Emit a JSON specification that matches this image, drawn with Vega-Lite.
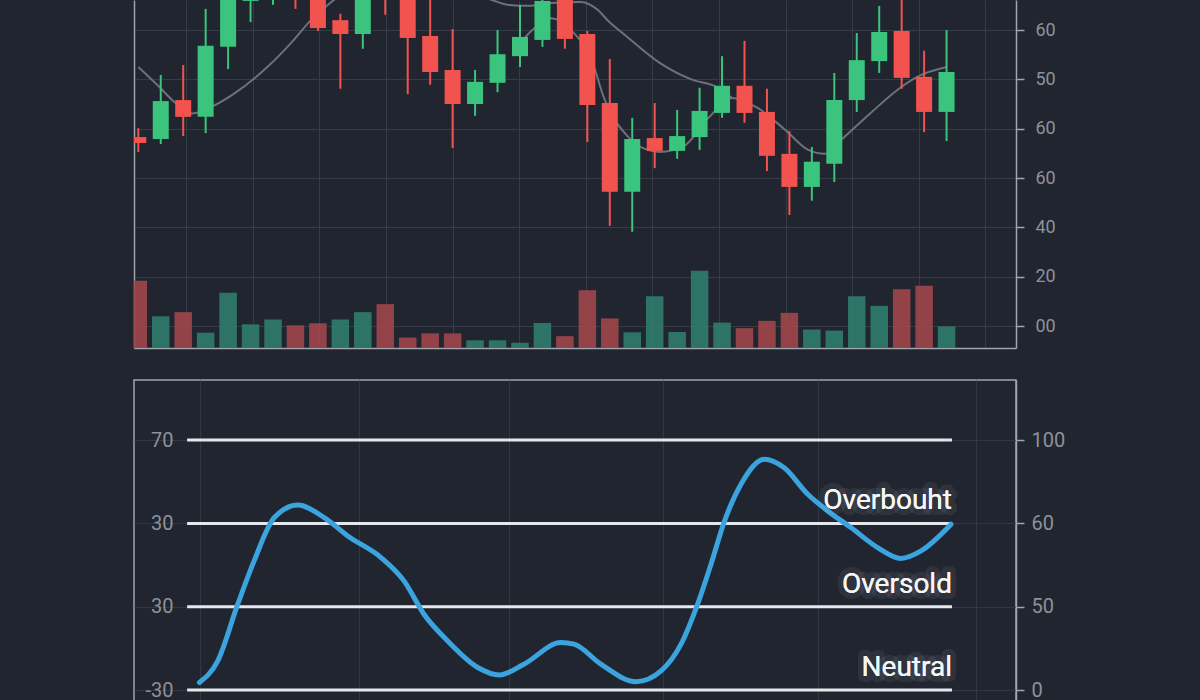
{
  "$schema": "https://vega.github.io/schema/vega-lite/v6.json",
  "background": "#20252f",
  "padding": {"left": 133, "top": 0, "right": 160, "bottom": 0},
  "spacing": 31,
  "config": {
    "view": {"stroke": null},
    "axis": {"labelFont": "Roboto", "titleFont": "Roboto", "gridColor": "#363c47", "gridWidth": 1, "domainColor": "#a0a5ad", "domainWidth": 1.5, "tickColor": "#a0a5ad", "tickWidth": 1.5, "labelColor": "#8d929a"},
    "text": {"font": "Roboto"}
  },
  "datasets": {
    "candles": [
      {"i": 0, "open": 3.83, "high": 4.01, "low": 3.53, "close": 3.71, "vol": 19.3, "side": "down"},
      {"i": 1, "open": 3.79, "high": 5.09, "low": 3.69, "close": 4.56, "vol": 9.1, "side": "up"},
      {"i": 2, "open": 4.58, "high": 5.29, "low": 3.85, "close": 4.24, "vol": 10.3, "side": "down"},
      {"i": 3, "open": 4.24, "high": 6.43, "low": 3.91, "close": 5.68, "vol": 4.4, "side": "up"},
      {"i": 4, "open": 5.66, "high": 7.12, "low": 5.21, "close": 6.85, "vol": 15.9, "side": "up"},
      {"i": 5, "open": 6.59, "high": 7.42, "low": 6.16, "close": 7.22, "vol": 6.8, "side": "up"},
      {"i": 6, "open": 6.69, "high": 7.52, "low": 6.51, "close": 7.32, "vol": 8.2, "side": "up"},
      {"i": 7, "open": 7.22, "high": 7.42, "low": 6.43, "close": 6.67, "vol": 6.5, "side": "down"},
      {"i": 8, "open": 6.91, "high": 7.06, "low": 5.98, "close": 6.04, "vol": 7.1, "side": "down"},
      {"i": 9, "open": 6.20, "high": 6.33, "low": 4.81, "close": 5.92, "vol": 8.2, "side": "up"},
      {"i": 10, "open": 5.92, "high": 6.91, "low": 5.62, "close": 6.77, "vol": 10.3, "side": "up"},
      {"i": 11, "open": 7.22, "high": 7.42, "low": 6.31, "close": 6.73, "vol": 12.6, "side": "down"},
      {"i": 12, "open": 6.85, "high": 7.01, "low": 4.70, "close": 5.84, "vol": 3.0, "side": "down"},
      {"i": 13, "open": 5.88, "high": 6.71, "low": 4.89, "close": 5.15, "vol": 4.2, "side": "down"},
      {"i": 14, "open": 5.19, "high": 6.02, "low": 3.61, "close": 4.50, "vol": 4.2, "side": "down"},
      {"i": 15, "open": 4.50, "high": 5.19, "low": 4.26, "close": 4.95, "vol": 2.2, "side": "up"},
      {"i": 16, "open": 4.93, "high": 6.00, "low": 4.74, "close": 5.51, "vol": 2.2, "side": "up"},
      {"i": 17, "open": 5.47, "high": 6.51, "low": 5.25, "close": 5.86, "vol": 1.5, "side": "up"},
      {"i": 18, "open": 5.80, "high": 6.71, "low": 5.66, "close": 6.59, "vol": 7.2, "side": "up"},
      {"i": 19, "open": 6.65, "high": 6.77, "low": 5.62, "close": 5.82, "vol": 3.4, "side": "down"},
      {"i": 20, "open": 5.92, "high": 5.98, "low": 3.73, "close": 4.48, "vol": 16.6, "side": "down"},
      {"i": 21, "open": 4.52, "high": 5.41, "low": 2.03, "close": 2.72, "vol": 8.5, "side": "down"},
      {"i": 22, "open": 2.72, "high": 4.22, "low": 1.91, "close": 3.79, "vol": 4.5, "side": "up"},
      {"i": 23, "open": 3.81, "high": 4.52, "low": 3.20, "close": 3.55, "vol": 14.9, "side": "up"},
      {"i": 24, "open": 3.55, "high": 4.38, "low": 3.39, "close": 3.85, "vol": 4.6, "side": "up"},
      {"i": 25, "open": 3.83, "high": 4.83, "low": 3.57, "close": 4.36, "vol": 22.2, "side": "up"},
      {"i": 26, "open": 4.32, "high": 5.47, "low": 4.22, "close": 4.87, "vol": 7.3, "side": "up"},
      {"i": 27, "open": 4.87, "high": 5.78, "low": 4.12, "close": 4.32, "vol": 5.7, "side": "down"},
      {"i": 28, "open": 4.34, "high": 4.81, "low": 3.14, "close": 3.45, "vol": 7.8, "side": "down"},
      {"i": 29, "open": 3.49, "high": 3.95, "low": 2.25, "close": 2.82, "vol": 10.1, "side": "down"},
      {"i": 30, "open": 2.82, "high": 3.63, "low": 2.54, "close": 3.33, "vol": 5.3, "side": "up"},
      {"i": 31, "open": 3.29, "high": 5.13, "low": 2.92, "close": 4.58, "vol": 5.0, "side": "up"},
      {"i": 32, "open": 4.58, "high": 5.94, "low": 4.34, "close": 5.39, "vol": 14.9, "side": "up"},
      {"i": 33, "open": 5.37, "high": 6.49, "low": 5.13, "close": 5.96, "vol": 12.1, "side": "up"},
      {"i": 34, "open": 5.98, "high": 6.67, "low": 4.81, "close": 5.03, "vol": 16.9, "side": "down"},
      {"i": 35, "open": 5.05, "high": 5.58, "low": 3.93, "close": 4.34, "vol": 17.9, "side": "down"},
      {"i": 36, "open": 4.34, "high": 6.00, "low": 3.75, "close": 5.15, "vol": 6.2, "side": "up"}
    ],
    "ma": [
      {"i": 0, "p": 5.25, "line": "slow"},
      {"i": 0.93, "p": 4.85, "line": "slow"},
      {"i": 1.66, "p": 4.52, "line": "slow"},
      {"i": 2.4, "p": 4.31, "line": "slow"},
      {"i": 3.42, "p": 4.48, "line": "slow"},
      {"i": 4.3, "p": 4.72, "line": "slow"},
      {"i": 5.77, "p": 5.26, "line": "slow"},
      {"i": 6.81, "p": 5.74, "line": "slow"},
      {"i": 7.69, "p": 6.2, "line": "slow"},
      {"i": 8.71, "p": 6.61, "line": "slow"},
      {"i": 9.59, "p": 6.91, "line": "slow"},
      {"i": 11.79, "p": 7.12, "line": "slow"},
      {"i": 13.99, "p": 6.85, "line": "slow"},
      {"i": 15.75, "p": 6.61, "line": "slow"},
      {"i": 16.5, "p": 6.51, "line": "slow"},
      {"i": 17.38, "p": 6.49, "line": "slow"},
      {"i": 18.39, "p": 6.55, "line": "slow"},
      {"i": 19.71, "p": 6.57, "line": "slow"},
      {"i": 20.46, "p": 6.41, "line": "slow"},
      {"i": 20.9, "p": 6.2, "line": "slow"},
      {"i": 21.78, "p": 5.86, "line": "slow"},
      {"i": 23.24, "p": 5.33, "line": "slow"},
      {"i": 24.69, "p": 4.99, "line": "slow"},
      {"i": 25.75, "p": 4.85, "line": "slow"},
      {"i": 26.45, "p": 4.62, "line": "slow"},
      {"i": 16.94, "p": 5.7, "line": "fast"},
      {"i": 17.6, "p": 6.02, "line": "fast"},
      {"i": 18.39, "p": 6.24, "line": "fast"},
      {"i": 19.27, "p": 6.0, "line": "fast"},
      {"i": 20.24, "p": 5.33, "line": "fast"},
      {"i": 20.73, "p": 4.64, "line": "fast"},
      {"i": 21.83, "p": 3.83, "line": "fast"},
      {"i": 22.36, "p": 3.63, "line": "fast"},
      {"i": 23.24, "p": 3.53, "line": "fast"},
      {"i": 24.25, "p": 3.63, "line": "fast"},
      {"i": 25.44, "p": 4.24, "line": "fast"},
      {"i": 26.45, "p": 4.62, "line": "fast"},
      {"i": 27.51, "p": 4.44, "line": "fast"},
      {"i": 28.83, "p": 3.97, "line": "fast"},
      {"i": 29.84, "p": 3.57, "line": "fast"},
      {"i": 30.59, "p": 3.49, "line": "fast"},
      {"i": 31.3, "p": 3.77, "line": "fast"},
      {"i": 32.62, "p": 4.32, "line": "fast"},
      {"i": 33.94, "p": 4.83, "line": "fast"},
      {"i": 34.69, "p": 5.05, "line": "fast"},
      {"i": 36.01, "p": 5.25, "line": "fast"}
    ],
    "osc": [
      {"i": 2.91, "v": 0.09}, {"i": 3.72, "v": 0.35}, {"i": 4.6, "v": 1.03}, {"i": 5.32, "v": 1.55},
      {"i": 6.21, "v": 2.07}, {"i": 7.24, "v": 2.22}, {"i": 8.41, "v": 2.07}, {"i": 9.44, "v": 1.85},
      {"i": 10.91, "v": 1.59}, {"i": 11.92, "v": 1.31}, {"i": 12.8, "v": 0.91}, {"i": 13.84, "v": 0.59},
      {"i": 15.17, "v": 0.27}, {"i": 16.12, "v": 0.18}, {"i": 17.2, "v": 0.31}, {"i": 18.83, "v": 0.57},
      {"i": 19.41, "v": 0.55}, {"i": 20.59, "v": 0.31}, {"i": 22.14, "v": 0.1}, {"i": 23.24, "v": 0.23},
      {"i": 24.12, "v": 0.55}, {"i": 24.85, "v": 1.03}, {"i": 25.44, "v": 1.51}, {"i": 26.01, "v": 2.01},
      {"i": 26.76, "v": 2.47}, {"i": 27.79, "v": 2.77}, {"i": 28.65, "v": 2.67}, {"i": 29.7, "v": 2.35},
      {"i": 30.58, "v": 2.15}, {"i": 31.6, "v": 1.95}, {"i": 32.78, "v": 1.71}, {"i": 33.8, "v": 1.58},
      {"i": 34.69, "v": 1.67}, {"i": 36.01, "v": 1.99}
    ],
    "levels": [
      {"level": 3, "from": 2.37, "to": 36.05, "zone": null},
      {"level": 2, "from": 2.37, "to": 36.05, "zone": "Overbouht"},
      {"level": 1, "from": 2.37, "to": 36.05, "zone": "Oversold"},
      {"level": 0, "from": 2.37, "to": 36.05, "zone": "Neutral"}
    ]
  },
  "vconcat": [
    {
      "width": 882,
      "height": 348,
      "layer": [
        {
          "data": {"name": "candles"},
          "mark": {"type": "bar", "size": 17.5, "clip": true, "opacity": 0.9},
          "encoding": {
            "x": {"field": "i", "type": "quantitative", "scale": {"domain": [0.031, 38.87], "nice": false, "zero": false},
                  "axis": {"values": [2.13, 5.1, 8.07, 11.03, 14.0, 16.96, 19.93, 22.9, 25.86, 28.83, 31.8, 34.76, 37.73], "labels": false, "ticks": false, "domain": true, "grid": true, "title": null}},
            "y": {"field": "vol", "type": "quantitative", "scale": {"domain": [0, 100], "nice": false},
                  "axis": {"orient": "left", "labels": false, "ticks": false, "grid": false, "domain": true, "title": null}},
            "color": {"field": "side", "type": "nominal", "scale": {"domain": ["up", "down"], "range": ["#2f7d6e", "#a0474b"]}, "legend": null}
          }
        },
        {
          "layer": [
            {
              "data": {"name": "ma"},
              "mark": {"type": "line", "clip": true, "interpolate": "monotone", "strokeWidth": 2, "color": "#6c717a"},
              "encoding": {
                "x": {"field": "i", "type": "quantitative", "scale": {"domain": [0.031, 38.87], "nice": false, "zero": false}},
                "y": {"field": "p", "type": "quantitative", "scale": {"domain": [-0.446, 6.609], "nice": false, "zero": false},
                      "axis": {"orient": "right", "values": [0, 1, 2, 3, 4, 5, 6], "labelExpr": "['00','20','40','60','60','50','60'][datum.value]", "tickSize": 8, "labelPadding": 11, "labelFontSize": 18, "grid": true, "domain": true, "title": null}},
                "detail": {"field": "line", "type": "nominal"}
              }
            },
            {
              "data": {"name": "candles"},
              "mark": {"type": "rule", "clip": true, "strokeWidth": 2},
              "encoding": {
                "x": {"field": "i", "type": "quantitative", "scale": {"domain": [0.031, 38.87], "nice": false, "zero": false}},
                "y": {"field": "low", "type": "quantitative", "scale": {"domain": [-0.446, 6.609], "nice": false, "zero": false}},
                "y2": {"field": "high"},
                "color": {"condition": {"test": "datum.close >= datum.open", "value": "#3ac47d"}, "value": "#f3534f"}
              }
            },
            {
              "data": {"name": "candles"},
              "mark": {"type": "bar", "clip": true, "size": 16},
              "encoding": {
                "x": {"field": "i", "type": "quantitative", "scale": {"domain": [0.031, 38.87], "nice": false, "zero": false}},
                "y": {"field": "open", "type": "quantitative", "scale": {"domain": [-0.446, 6.609], "nice": false, "zero": false}},
                "y2": {"field": "close"},
                "color": {"condition": {"test": "datum.close >= datum.open", "value": "#3ac47d"}, "value": "#f3534f"}
              }
            }
          ]
        }
      ],
      "resolve": {"scale": {"y": "independent"}}
    },
    {
      "width": 882,
      "height": 341,
      "view": {"stroke": "#a0a5ad", "strokeWidth": 1.5},
      "layer": [
        {
          "data": {"name": "levels"},
          "mark": {"type": "rule", "strokeWidth": 3, "color": "#e4e7ec"},
          "encoding": {
            "x": {"field": "from", "type": "quantitative", "scale": {"domain": [0.031, 38.87], "nice": false, "zero": false},
                  "axis": {"values": [2.92, 9.92, 16.54, 23.33, 30.15, 37.11], "labels": false, "ticks": false, "domain": false, "grid": true, "gridColor": "#323843", "title": null}},
            "x2": {"field": "to"},
            "y": {"field": "level", "type": "quantitative", "scale": {"domain": [-0.372, 3.7215], "nice": false, "zero": false},
                  "axis": {"orient": "left", "offset": -39, "values": [0, 1, 2, 3], "labelExpr": "['-30','30','30','70'][datum.value]", "ticks": false, "tickSize": 0, "domain": false, "grid": false, "labelPadding": 0, "labelFontSize": 20, "title": null}}
          }
        },
        {
          "layer": [
            {
              "data": {"name": "osc"},
              "mark": {"type": "line", "interpolate": "monotone", "strokeWidth": 5, "color": "#3ba3dd", "strokeCap": "round"},
              "encoding": {
                "x": {"field": "i", "type": "quantitative", "scale": {"domain": [0.031, 38.87], "nice": false, "zero": false}},
                "y": {"field": "v", "type": "quantitative", "scale": {"domain": [-0.372, 3.7215], "nice": false, "zero": false},
                      "axis": {"orient": "right", "values": [0, 1, 2, 3], "labelExpr": "['0','50','60','100'][datum.value]", "tickSize": 8, "labelPadding": 7, "labelFontSize": 20, "grid": true, "gridColor": "#323843", "domain": true, "title": null}}
              }
            },
            {
              "data": {"name": "levels"},
              "transform": [{"filter": "datum.zone != null"}],
              "mark": {"type": "text", "align": "right", "baseline": "alphabetic", "dy": -14, "fontSize": 28, "color": "#ffffff", "stroke": "#ffffff", "strokeWidth": 12, "strokeOpacity": 0.07, "strokeJoin": "round"},
              "encoding": {
                "x": {"field": "to", "type": "quantitative", "scale": {"domain": [0.031, 38.87], "nice": false, "zero": false}},
                "y": {"field": "level", "type": "quantitative", "scale": {"domain": [-0.372, 3.7215], "nice": false, "zero": false}},
                "text": {"field": "zone"}
              }
            },
            {
              "data": {"name": "levels"},
              "transform": [{"filter": "datum.zone != null"}],
              "mark": {"type": "text", "align": "right", "baseline": "alphabetic", "dy": -14, "fontSize": 28, "color": "#f4f6f9"},
              "encoding": {
                "x": {"field": "to", "type": "quantitative", "scale": {"domain": [0.031, 38.87], "nice": false, "zero": false}},
                "y": {"field": "level", "type": "quantitative", "scale": {"domain": [-0.372, 3.7215], "nice": false, "zero": false}},
                "text": {"field": "zone"}
              }
            }
          ]
        }
      ],
      "resolve": {"scale": {"y": "independent"}}
    }
  ]
}
